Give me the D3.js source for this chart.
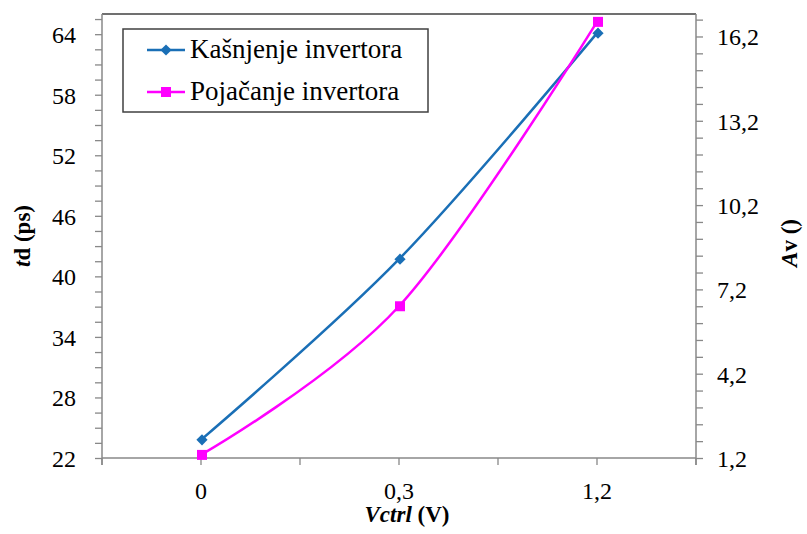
<!DOCTYPE html>
<html>
<head>
<meta charset="utf-8">
<script src="https://cdn.jsdelivr.net/npm/d3@7"></script>
<style>
  body { margin: 0; background: #fff; }
  svg text { fill: #000; }
</style>
</head>
<body>
<svg id="chart" width="807" height="534"></svg>
<script>
// Chart data
const categories = ["0", "0,3", "1,2"];
const delayValues = [23.8, 41.7, 64.1];     // Kašnjenje invertora, td (ps), left axis
const gainValues = [1.31, 6.6, 16.72];      // Pojačanje invertora, Av (), right axis
const leftTicks = [22, 28, 34, 40, 46, 52, 58, 64];
const rightTicks = [1.2, 4.2, 7.2, 10.2, 13.2, 16.2];
const seriesNames = ["Kašnjenje invertora", "Pojačanje invertora"];

const blue = "#1a6fb6";
const pink = "#ff00ff";
const axisGray = "#888";
const serif = "'Liberation Serif', 'Times New Roman', 'DejaVu Serif', serif";

/**
 * Draws the dual axis line chart
 */
function drawChart() {
    const svg = d3.select("#chart");
    const width = 807, height = 534;
    const margin = { top: 14, right: 111, bottom: 76, left: 102 };
    const plotW = width - margin.left - margin.right;
    const plotH = height - margin.top - margin.bottom;

    const locale = d3.formatLocale({ decimal: ",", thousands: ".", grouping: [3], currency: ["", ""] });
    const fmt1 = locale.format(".1f");

    const x = d3.scaleBand()
        .domain(categories)
        .range([margin.left, margin.left + plotW])
        .paddingInner(0).paddingOuter(0);
    const cx = c => x(c) + x.bandwidth() / 2;

    const yLeft = d3.scaleLinear()
        .domain([22, 66])
        .range([margin.top + plotH, margin.top]);
    const yRight = d3.scaleLinear()
        .domain([1.2, 17])
        .range([margin.top + plotH, margin.top]);

    const bottom = margin.top + plotH;
    const right = margin.left + plotW;

    // Plot area top border
    svg.append("line")
        .attr("x1", margin.left).attr("x2", right)
        .attr("y1", margin.top).attr("y2", margin.top)
        .attr("stroke", "#404040").attr("stroke-width", 1.5);

    // Left axis: minor ticks then major labels
    const leftAxis = svg.append("g")
        .attr("transform", `translate(${margin.left},0)`);
    leftAxis.call(d3.axisLeft(yLeft)
            .tickValues(d3.range(22, 66.01, 1.5))
            .tickSize(7)
            .tickFormat(""))
        .call(g => g.select(".domain").remove());
    leftAxis.selectAll(".tick line").attr("stroke", axisGray).attr("stroke-width", 1.3);
    leftAxis.append("line")
        .attr("y1", margin.top).attr("y2", bottom + 7)
        .attr("stroke", axisGray).attr("stroke-width", 1.5);
    leftAxis.selectAll(".lbl")
        .data(leftTicks)
        .enter().append("text")
        .attr("class", "lbl")
        .attr("x", -26)
        .attr("y", d => yLeft(d) + 9)
        .attr("text-anchor", "end")
        .attr("font-family", serif)
        .attr("fill", "#000")
        .style("font-size", "24px")
        .text(d => d);

    // Right axis
    const rightAxis = svg.append("g")
        .attr("transform", `translate(${right},0)`);
    rightAxis.call(d3.axisRight(yRight)
            .tickValues(d3.range(0, 27).map(i => 1.2 + i * 0.6))
            .tickSize(7)
            .tickFormat(""))
        .call(g => g.select(".domain").remove());
    rightAxis.selectAll(".tick line").attr("stroke", axisGray).attr("stroke-width", 1.3);
    rightAxis.append("line")
        .attr("y1", margin.top).attr("y2", bottom + 7)
        .attr("stroke", axisGray).attr("stroke-width", 1.5);
    rightAxis.selectAll(".lbl")
        .data(rightTicks)
        .enter().append("text")
        .attr("class", "lbl")
        .attr("x", 21)
        .attr("y", d => yRight(d) + 9)
        .attr("text-anchor", "start")
        .attr("font-family", serif)
        .attr("fill", "#000")
        .style("font-size", "24px")
        .text(d => fmt1(d));

    // Bottom axis: ticks at band edges and centers
    const xTickPos = [];
    categories.forEach(c => { xTickPos.push(x(c)); xTickPos.push(cx(c)); });
    xTickPos.push(right);
    const bottomAxis = svg.append("g");
    bottomAxis.append("line")
        .attr("x1", margin.left).attr("x2", right)
        .attr("y1", bottom).attr("y2", bottom)
        .attr("stroke", axisGray).attr("stroke-width", 1.5);
    bottomAxis.selectAll(".tk")
        .data(xTickPos)
        .enter().append("line")
        .attr("class", "tk")
        .attr("x1", d => d).attr("x2", d => d)
        .attr("y1", bottom).attr("y2", bottom + 7)
        .attr("stroke", axisGray).attr("stroke-width", 1.3);
    bottomAxis.selectAll(".lbl")
        .data(categories)
        .enter().append("text")
        .attr("class", "lbl")
        .attr("x", d => cx(d))
        .attr("y", bottom + 41)
        .attr("text-anchor", "middle")
        .attr("font-family", serif)
        .attr("fill", "#000")
        .style("font-size", "24px")
        .text(d => d);

    // Axis titles
    const tLeft = svg.append("text")
        .attr("transform", `translate(30, 236) rotate(-90)`)
        .attr("text-anchor", "middle")
        .attr("font-family", serif)
        .style("font-size", "23px")
        .style("font-weight", "bold");
    tLeft.append("tspan").style("font-style", "italic").text("t");
    tLeft.append("tspan").text("d (ps)");

    const tRight = svg.append("text")
        .attr("transform", `translate(797, 243) rotate(-90)`)
        .attr("text-anchor", "middle")
        .attr("font-family", serif)
        .style("font-size", "23px")
        .style("font-weight", "bold");
    tRight.append("tspan").style("font-style", "italic").text("A");
    tRight.append("tspan").text("v ()");

    const tBottom = svg.append("text")
        .attr("x", 407)
        .attr("y", 522)
        .attr("text-anchor", "middle")
        .attr("font-family", serif)
        .style("font-size", "23px")
        .style("font-weight", "bold");
    tBottom.append("tspan").style("font-style", "italic").text("Vctrl");
    tBottom.append("tspan").text(" (V)");

    // Smoothed lines
    const lineLeft = d3.line()
        .x((d, i) => cx(categories[i]))
        .y(d => yLeft(d))
        .curve(d3.curveCardinal.tension(0));
    const lineRight = d3.line()
        .x((d, i) => cx(categories[i]))
        .y(d => yRight(d))
        .curve(d3.curveCardinal.tension(0));

    svg.append("path")
        .datum(delayValues)
        .attr("d", lineLeft)
        .attr("fill", "none")
        .attr("stroke", blue)
        .attr("stroke-width", 2.5);
    svg.append("path")
        .datum(gainValues)
        .attr("d", lineRight)
        .attr("fill", "none")
        .attr("stroke", pink)
        .attr("stroke-width", 2.5);

    const diamond = d3.symbol().type(d3.symbolDiamond2).size(80);

    svg.selectAll(".dmark")
        .data(delayValues)
        .enter().append("path")
        .attr("class", "dmark")
        .attr("d", diamond)
        .attr("transform", (d, i) => `translate(${cx(categories[i]) + 1},${yLeft(d)})`)
        .attr("fill", blue);
    svg.selectAll(".smark")
        .data(gainValues)
        .enter().append("rect")
        .attr("class", "smark")
        .attr("x", (d, i) => cx(categories[i]) - 4)
        .attr("y", d => yRight(d) - 5)
        .attr("width", 10).attr("height", 10)
        .attr("fill", pink);

    // Legend
    const legend = svg.append("g");
    legend.append("rect")
        .attr("x", 123).attr("y", 29)
        .attr("width", 305).attr("height", 83)
        .attr("fill", "#fff")
        .attr("stroke", "#404040")
        .attr("stroke-width", 1.5);
    const rowY = [50, 92];
    const colors = [blue, pink];
    seriesNames.forEach((name, i) => {
        legend.append("line")
            .attr("x1", 147).attr("x2", 185)
            .attr("y1", rowY[i]).attr("y2", rowY[i])
            .attr("stroke", colors[i]).attr("stroke-width", 2.5);
        if (i === 0) {
            legend.append("path")
                .attr("d", diamond)
                .attr("transform", `translate(166,${rowY[i]})`)
                .attr("fill", colors[i]);
        } else {
            legend.append("rect")
                .attr("x", 161).attr("y", rowY[i] - 5)
                .attr("width", 10).attr("height", 10)
                .attr("fill", colors[i]);
        }
        legend.append("text")
            .attr("x", 190)
            .attr("y", rowY[i] + 8)
            .attr("font-family", serif)
            .style("font-size", "27px")
            .text(name);
    });
}

drawChart();
</script>
</body>
</html>
